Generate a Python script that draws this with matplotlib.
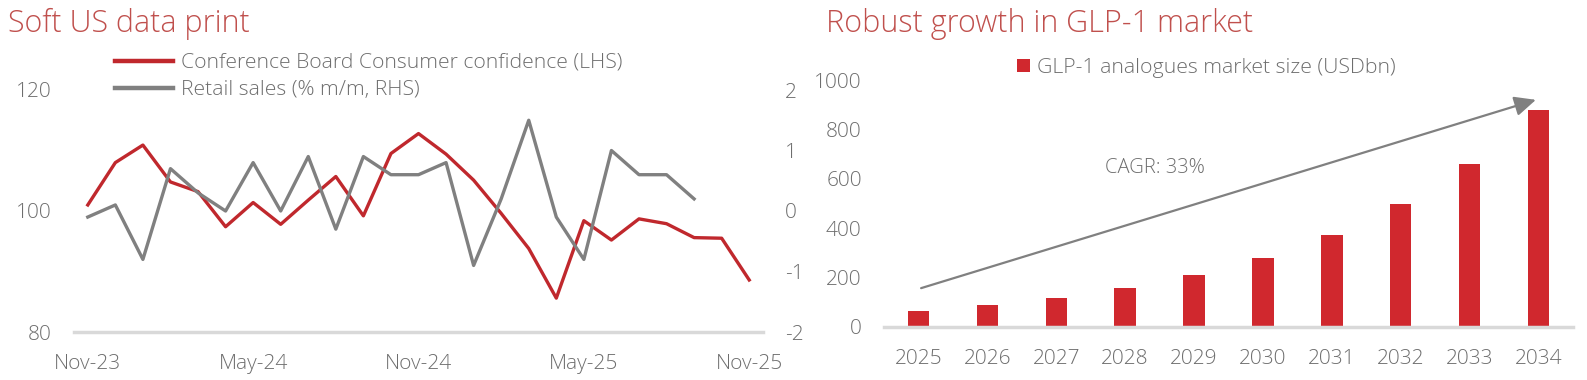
import matplotlib
matplotlib.use("Agg")
import matplotlib.pyplot as plt

plt.rcParams['font.family'] = ['Open Sans', 'DejaVu Sans']
plt.rcParams['font.weight'] = 300
plt.rcParams['axes.unicode_minus'] = False

# left chart: monthly data Nov-23 .. Nov-25
months = ["Nov-23", "Dec-23", "Jan-24", "Feb-24", "Mar-24", "Apr-24", "May-24", "Jun-24",
          "Jul-24", "Aug-24", "Sep-24", "Oct-24", "Nov-24", "Dec-24", "Jan-25", "Feb-25",
          "Mar-25", "Apr-25", "May-25", "Jun-25", "Jul-25", "Aug-25", "Sep-25", "Oct-25", "Nov-25"]
confidence = [101.0, 108.0, 110.9, 104.8, 103.2, 97.4, 101.4, 97.8, 101.8, 105.7, 99.2, 109.5,
              112.8, 109.4, 105.1, 99.6, 93.8, 85.6, 98.4, 95.2, 98.7, 97.9, 95.6, 95.5, 88.6]
retail = [-0.1, 0.1, -0.8, 0.7, 0.3, 0.0, 0.8, 0.0, 0.9, -0.3, 0.9, 0.6, 0.6, 0.8, -0.9,
          0.2, 1.5, -0.1, -0.8, 1.0, 0.6, 0.6, 0.2]
month_ticks = ["Nov-23", "May-24", "Nov-24", "May-25", "Nov-25"]

# right chart
years = ["2025", "2026", "2027", "2028", "2029", "2030", "2031", "2032", "2033", "2034"]
market = [65, 88, 118, 158, 209, 280, 372, 496, 659, 878]

RED = "#c0282d"
BAR = "#d0282e"
TITLE = "#c0504d"
GREY = "#808080"
TXT = "#6e6e6e"
BASE = "#d9d9d9"

fig = plt.figure(figsize=(15.87, 3.8), dpi=100)
W, H = 1587, 380

def ax_rect(l, t, r, b):
    return [l / W, 1 - b / H, (r - l) / W, (b - t) / H]

# ---- left chart
ax = fig.add_axes(ax_rect(74, 90, 763, 332))
x = list(range(len(months)))
l1, = ax.plot(x, confidence, color=RED, lw=2.4, label="Conference Board Consumer confidence (LHS)")
ax.set_ylim(80, 120)
ax.set_yticks([80, 100, 120])
ax.set_xlim(-0.5, 24.5)
ax.set_xticks([months.index(m) for m in month_ticks])
ax.set_xticklabels(month_ticks)
ax2 = ax.twinx()
l2, = ax2.plot(x[:len(retail)], retail, color=GREY, lw=2.4, label="Retail sales (% m/m, RHS)")
ax2.set_ylim(-2, 2)
ax2.set_yticks([-2, -1, 0, 1, 2])
for a in (ax, ax2):
    for s in a.spines.values():
        s.set_visible(False)
    a.tick_params(length=0, labelsize=15, colors=TXT)
ax.tick_params(axis="y", pad=16)
ax.tick_params(axis="x", pad=16)
ax2.tick_params(axis="y", pad=16)
ax.axhline(80, color=BASE, lw=2.5, clip_on=False)
leg = fig.legend(handles=[l1, l2], loc="upper left", bbox_to_anchor=(115 / W, 1 - 53 / H),
                 frameon=False, fontsize=15.2, handlelength=2.75, handletextpad=0.38,
                 labelspacing=0.34, borderpad=0, borderaxespad=0)
for t in leg.get_texts():
    t.set_color(TXT)
for h in leg.get_lines():
    h.set_linewidth(3.2)
fig.text(8 / W, 1 - 32 / H, "Soft US data print", fontsize=22, color=TITLE, va="baseline", ha="left")

# ---- right chart
bx = fig.add_axes(ax_rect(884, 80, 1573, 327))
xb = list(range(len(years)))
bars = bx.bar(xb, market, width=0.31, color=BAR, label="GLP-1 analogues market size (USDbn)")
bx.set_xlim(-0.5, 9.5)
bx.set_ylim(0, 1000)
bx.set_yticks(range(0, 1001, 200))
bx.set_xticks(xb)
bx.set_xticklabels(years)
for s in bx.spines.values():
    s.set_visible(False)
bx.tick_params(length=0, labelsize=15, colors=TXT)
bx.tick_params(axis="y", pad=16)
bx.tick_params(axis="x", pad=16)
bx.axhline(0, color=BASE, lw=2.5, clip_on=False)
bx.annotate("", xy=(9.0, 923), xytext=(0.0, 154),
            arrowprops=dict(arrowstyle="-|>,head_length=1.3,head_width=0.6", color=GREY, lw=1.6))
bx.text(3.43, 644, "CAGR: 33%", fontsize=14.5, color=TXT, ha="center", va="center")
leg2 = fig.legend(handles=[bars], loc="center left", bbox_to_anchor=(1017 / W, 1 - 68 / H),
                  frameon=False, fontsize=15.3, handlelength=0.63, handleheight=0.63,
                  handletextpad=0.3, borderpad=0, borderaxespad=0)
for t in leg2.get_texts():
    t.set_color(TXT)
fig.text(826 / W, 1 - 32 / H, "Robust growth in GLP-1 market", fontsize=22, color=TITLE,
         va="baseline", ha="left")

fig.savefig("out.png", dpi=100)
